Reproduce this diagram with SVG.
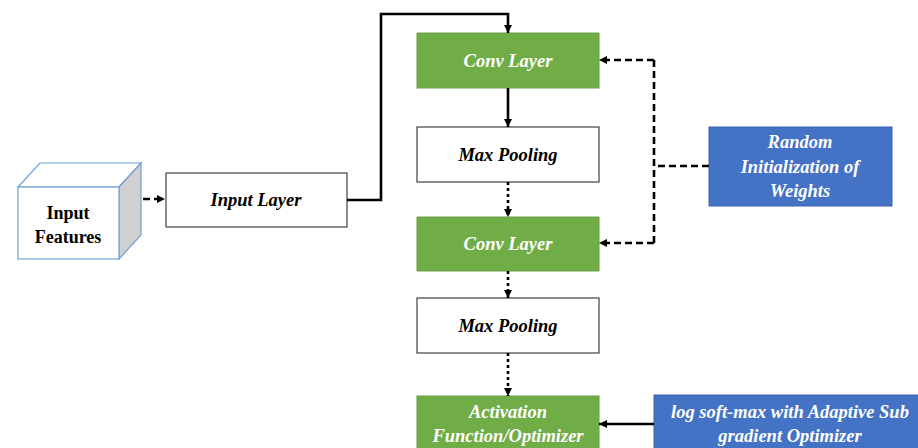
<svg xmlns="http://www.w3.org/2000/svg" width="918" height="448" viewBox="0 0 918 448">
<defs>
<style>
.t{font-family:"Liberation Serif","Times New Roman",serif;font-weight:bold;font-style:italic;font-size:18.5px;text-anchor:middle}
.w{fill:#ffffff}
.k{fill:#000000}
.wb{fill:#ffffff;stroke:#404040;stroke-width:1.2}
.gb{fill:#70AD47;stroke:#6a9f45;stroke-width:1}
.bb{fill:#4472C4;stroke:#3c64ad;stroke-width:1}
.c{fill:none;stroke:#000;stroke-width:2.6}
.dash{stroke-dasharray:7 4}
.dot{stroke-dasharray:3 3}
</style>
<marker id="ah" viewBox="0 0 8 8" refX="8" refY="4" markerWidth="8" markerHeight="8" markerUnits="userSpaceOnUse" orient="auto">
<path d="M0,0 L8,4 L0,8 z" fill="#000"/>
</marker>
</defs>
<rect width="918" height="448" fill="#ffffff"/>
<g id="input-features">
<polygon points="18,187 40,163 141,163 119,187" fill="#ffffff" stroke="#6fa0d8" stroke-width="1.2"/>
<polygon points="119,187 141,163 141,235 119,259" fill="#d0d0d0" stroke="#6fa0d8" stroke-width="1.2"/>
<rect x="18" y="187" width="101" height="72" fill="#ffffff" stroke="#6fa0d8" stroke-width="1.2"/>
<text x="68" y="219" class="k" style="font-family:'Liberation Serif','Times New Roman',serif;font-weight:bold;font-size:18px;text-anchor:middle">Input</text>
<text x="68" y="243" class="k" style="font-family:'Liberation Serif','Times New Roman',serif;font-weight:bold;font-size:18px;text-anchor:middle">Features</text>
</g>
<g id="input-layer">
<rect x="166" y="173" width="181" height="54" class="wb"/>
<text x="256" y="206" class="t k">Input Layer</text>
</g>
<g id="conv1">
<rect x="417" y="33" width="182" height="55" class="gb"/>
<text x="508" y="67" class="t w">Conv Layer</text>
</g>
<g id="maxpool1">
<rect x="417" y="127" width="182" height="55" class="wb"/>
<text x="508" y="161" class="t k">Max Pooling</text>
</g>
<g id="conv2">
<rect x="417" y="217" width="182" height="54" class="gb"/>
<text x="508" y="250" class="t w">Conv Layer</text>
</g>
<g id="maxpool2">
<rect x="417" y="298" width="182" height="55" class="wb"/>
<text x="508" y="332" class="t k">Max Pooling</text>
</g>
<g id="activation">
<rect x="417" y="396" width="182" height="60" class="gb"/>
<text x="508" y="418" class="t w">Activation</text>
<text x="508" y="442" class="t w">Function/Optimizer</text>
</g>
<g id="random-init">
<rect x="709" y="127" width="183" height="79" class="bb"/>
<text x="800" y="148" class="t w">Random</text>
<text x="800" y="173" class="t w">Initialization of</text>
<text x="800" y="197" class="t w">Weights</text>
</g>
<g id="logsoftmax">
<rect x="654" y="395" width="270" height="60" class="bb"/>
<text x="790" y="418" class="t w">log soft-max with Adaptive Sub</text>
<text x="790" y="442" class="t w">gradient Optimizer</text>
</g>
<g id="connectors">
<path d="M143,199 H165" class="c dash" stroke-dasharray="6 4" marker-end="url(#ah)"/>
<path d="M347,200 H381 V14 H508 V33" class="c" marker-end="url(#ah)"/>
<path d="M508,88 V127" class="c" marker-end="url(#ah)"/>
<path d="M508,182 V217" class="c dot" marker-end="url(#ah)"/>
<path d="M508,271 V298" class="c dot" marker-end="url(#ah)"/>
<path d="M508,353 V396" class="c dot" marker-end="url(#ah)"/>
<path d="M709,166 H654" class="c dash"/>
<path d="M654,60 V243" class="c dash"/>
<path d="M654,60 H599" class="c dash" marker-end="url(#ah)"/>
<path d="M654,243 H599" class="c dash" marker-end="url(#ah)"/>
<path d="M654,424 H599" class="c" marker-end="url(#ah)"/>
</g>
</svg>
